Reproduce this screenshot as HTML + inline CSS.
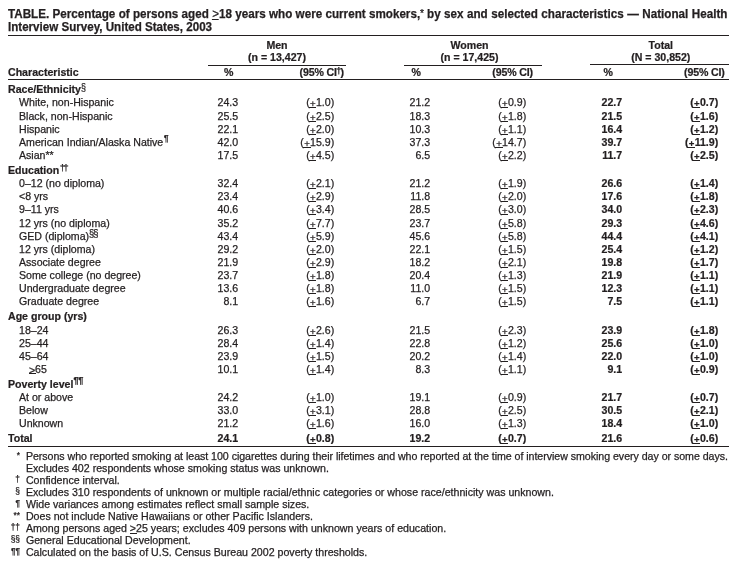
<!DOCTYPE html>
<html><head><meta charset="utf-8"><title>TABLE</title>
<style>
html,body{margin:0;padding:0;background:#fff;overflow:hidden}
body{width:738px;height:566px;position:relative;overflow:hidden;font-family:"Liberation Sans",Arial,Helvetica,sans-serif;color:#231f20;font-size:10.6px;letter-spacing:0px;-webkit-text-stroke:0.25px #231f20}
.t{position:absolute;white-space:nowrap;line-height:20px;height:20px}
.b{font-weight:bold;letter-spacing:0px;-webkit-text-stroke:0.22px #231f20}
.u{position:relative}
.u::after{content:"";position:absolute;left:-0.9px;right:-0.5px;bottom:0px;height:1px;background:#231f20}
.p{font-size:9.6px;padding:0 0.29px;top:1px}
.p::after{bottom:1px}
.g::after{left:-0.3px;right:-1.2px}
.g65{top:1px}
.g65::after{bottom:2px}
.ttl .u::after{bottom:1px;right:-0.2px}
.ast{font-weight:normal;font-size:10.5px;position:relative;top:-1px;margin-right:-0.3px}
.rule{position:absolute;background:#231f20}
sup{font-weight:normal;letter-spacing:0;font-size:9.2px;vertical-align:baseline;position:relative;top:-2.5px;line-height:0}
.ttl{font-size:12.0px;font-weight:bold;letter-spacing:0px;transform:scaleX(0.971);transform-origin:0 0;}
.f{font-size:10.64px;letter-spacing:0px}
.fm{font-size:8.4px}
</style></head>
<body>
<div class="t ttl" style="top:3.84px;left:8.00px;word-spacing:0.08px;">TABLE. Percentage of persons aged <span class="u g" style="font-weight:normal">&gt;</span>18 years who were current smokers,<span class="ast">*</span> by sex<span style="word-spacing:0.28px"> and selected characteristics — National Health</span></div>
<div class="t ttl" style="top:16.84px;left:8.00px;transform:scaleX(0.966);">Interview Survey, United States, 2003</div>
<div class="rule" style="left:8.00px;top:35.00px;width:721.00px;height:1.00px"></div>
<div class="t b" style="top:35.13px;left:217.00px;width:120px;text-align:center;">Men</div>
<div class="t b" style="top:47.23px;left:217.00px;width:120px;text-align:center;">(n = 13,427)</div>
<div class="rule" style="left:208.10px;top:65.00px;width:137.90px;height:1.00px"></div>
<div class="t b" style="top:35.13px;left:409.50px;width:120px;text-align:center;">Women</div>
<div class="t b" style="top:47.23px;left:409.50px;width:120px;text-align:center;">(n = 17,425)</div>
<div class="rule" style="left:404.20px;top:65.00px;width:137.70px;height:1.00px"></div>
<div class="t b" style="top:35.13px;left:600.75px;width:120px;text-align:center;">Total</div>
<div class="t b" style="top:47.23px;left:600.75px;width:120px;text-align:center;">(N = 30,852)</div>
<div class="rule" style="left:590.20px;top:64.00px;width:138.80px;height:1.00px"></div>
<div class="t b" style="top:62.13px;left:8.00px;">Characteristic</div>
<div class="t b" style="top:62.13px;left:168.60px;width:120px;text-align:center;">%</div>
<div class="t b" style="top:62.13px;right:394.20px;letter-spacing:-0.15px;">(95% CI<sup style="font-size:9.0px;top:-2.6px;letter-spacing:0px;margin-left:-0.6px;margin-right:-0.8px;font-weight:bold;">†</sup>)</div>
<div class="t b" style="top:62.13px;left:356.15px;width:120px;text-align:center;">%</div>
<div class="t b" style="top:62.13px;right:205.10px;letter-spacing:-0.15px;">(95% CI)</div>
<div class="t b" style="top:62.13px;left:548.20px;width:120px;text-align:center;">%</div>
<div class="t b" style="top:62.13px;right:13.30px;letter-spacing:-0.15px;">(95% CI)</div>
<div class="rule" style="left:8.00px;top:79.00px;width:721.00px;height:1.00px"></div>
<div class="t b" style="top:79.33px;left:8.00px;">Race/Ethnicity<sup style="font-size:10.7px;top:-2.1px;letter-spacing:0px;margin-left:0.2px;margin-right:0px;font-weight:normal;display:inline-block;transform:scaleX(0.84);transform-origin:0 50%;">§</sup></div>
<div class="t " style="top:92.33px;left:19.00px;">White, non-Hispanic</div>
<div class="t " style="top:92.33px;right:499.80px;">24.3</div>
<div class="t " style="top:92.33px;right:403.80px;">(<span class="u p">+</span>1.0)</div>
<div class="t " style="top:92.33px;right:307.80px;">21.2</div>
<div class="t " style="top:92.33px;right:211.80px;">(<span class="u p">+</span>0.9)</div>
<div class="t b" style="top:92.33px;right:115.80px;">22.7</div>
<div class="t b" style="top:92.33px;right:19.80px;">(<span class="u p">+</span>0.7)</div>
<div class="t " style="top:106.33px;left:19.00px;">Black, non-Hispanic</div>
<div class="t " style="top:106.33px;right:499.80px;">25.5</div>
<div class="t " style="top:106.33px;right:403.80px;">(<span class="u p">+</span>2.5)</div>
<div class="t " style="top:106.33px;right:307.80px;">18.3</div>
<div class="t " style="top:106.33px;right:211.80px;">(<span class="u p">+</span>1.8)</div>
<div class="t b" style="top:106.33px;right:115.80px;">21.5</div>
<div class="t b" style="top:106.33px;right:19.80px;">(<span class="u p">+</span>1.6)</div>
<div class="t " style="top:119.33px;left:19.00px;">Hispanic</div>
<div class="t " style="top:119.33px;right:499.80px;">22.1</div>
<div class="t " style="top:119.33px;right:403.80px;">(<span class="u p">+</span>2.0)</div>
<div class="t " style="top:119.33px;right:307.80px;">10.3</div>
<div class="t " style="top:119.33px;right:211.80px;">(<span class="u p">+</span>1.1)</div>
<div class="t b" style="top:119.33px;right:115.80px;">16.4</div>
<div class="t b" style="top:119.33px;right:19.80px;">(<span class="u p">+</span>1.2)</div>
<div class="t " style="top:132.33px;left:19.00px;">American Indian/Alaska Native<sup style="font-size:9.2px;top:-5.2px;letter-spacing:0px;margin-left:0.5px;margin-right:0px;font-weight:normal;">¶</sup></div>
<div class="t " style="top:132.33px;right:499.80px;">42.0</div>
<div class="t " style="top:132.33px;right:403.80px;">(<span class="u p">+</span>15.9)</div>
<div class="t " style="top:132.33px;right:307.80px;">37.3</div>
<div class="t " style="top:132.33px;right:211.80px;">(<span class="u p">+</span>14.7)</div>
<div class="t b" style="top:132.33px;right:115.80px;">39.7</div>
<div class="t b" style="top:132.33px;right:19.80px;">(<span class="u p">+</span>11.9)</div>
<div class="t " style="top:145.33px;left:19.00px;">Asian**</div>
<div class="t " style="top:145.33px;right:499.80px;">17.5</div>
<div class="t " style="top:145.33px;right:403.80px;">(<span class="u p">+</span>4.5)</div>
<div class="t " style="top:145.33px;right:307.80px;">6.5</div>
<div class="t " style="top:145.33px;right:211.80px;">(<span class="u p">+</span>2.2)</div>
<div class="t b" style="top:145.33px;right:115.80px;">11.7</div>
<div class="t b" style="top:145.33px;right:19.80px;">(<span class="u p">+</span>2.5)</div>
<div class="t b" style="top:160.33px;left:8.00px;">Education<sup style="font-size:9.8px;top:-3.4px;letter-spacing:-1.9px;margin-left:0.6px;margin-right:0px;font-weight:normal;">††</sup></div>
<div class="t " style="top:173.33px;left:19.00px;">0–12 (no diploma)</div>
<div class="t " style="top:173.33px;right:499.80px;">32.4</div>
<div class="t " style="top:173.33px;right:403.80px;">(<span class="u p">+</span>2.1)</div>
<div class="t " style="top:173.33px;right:307.80px;">21.2</div>
<div class="t " style="top:173.33px;right:211.80px;">(<span class="u p">+</span>1.9)</div>
<div class="t b" style="top:173.33px;right:115.80px;">26.6</div>
<div class="t b" style="top:173.33px;right:19.80px;">(<span class="u p">+</span>1.4)</div>
<div class="t " style="top:186.33px;left:19.00px;">&lt;8 yrs</div>
<div class="t " style="top:186.33px;right:499.80px;">23.4</div>
<div class="t " style="top:186.33px;right:403.80px;">(<span class="u p">+</span>2.9)</div>
<div class="t " style="top:186.33px;right:307.80px;">11.8</div>
<div class="t " style="top:186.33px;right:211.80px;">(<span class="u p">+</span>2.0)</div>
<div class="t b" style="top:186.33px;right:115.80px;">17.6</div>
<div class="t b" style="top:186.33px;right:19.80px;">(<span class="u p">+</span>1.8)</div>
<div class="t " style="top:199.33px;left:19.00px;">9–11 yrs</div>
<div class="t " style="top:199.33px;right:499.80px;">40.6</div>
<div class="t " style="top:199.33px;right:403.80px;">(<span class="u p">+</span>3.4)</div>
<div class="t " style="top:199.33px;right:307.80px;">28.5</div>
<div class="t " style="top:199.33px;right:211.80px;">(<span class="u p">+</span>3.0)</div>
<div class="t b" style="top:199.33px;right:115.80px;">34.0</div>
<div class="t b" style="top:199.33px;right:19.80px;">(<span class="u p">+</span>2.3)</div>
<div class="t " style="top:213.33px;left:19.00px;">12 yrs (no diploma)</div>
<div class="t " style="top:213.33px;right:499.80px;">35.2</div>
<div class="t " style="top:213.33px;right:403.80px;">(<span class="u p">+</span>7.7)</div>
<div class="t " style="top:213.33px;right:307.80px;">23.7</div>
<div class="t " style="top:213.33px;right:211.80px;">(<span class="u p">+</span>5.8)</div>
<div class="t b" style="top:213.33px;right:115.80px;">29.3</div>
<div class="t b" style="top:213.33px;right:19.80px;">(<span class="u p">+</span>4.6)</div>
<div class="t " style="top:226.33px;left:19.00px;">GED (diploma)<sup style="font-size:10.7px;top:-3.2px;letter-spacing:-1.2px;margin-left:0.3px;margin-right:0px;font-weight:normal;display:inline-block;transform:scaleX(0.88);transform-origin:0 50%;">§§</sup></div>
<div class="t " style="top:226.33px;right:499.80px;">43.4</div>
<div class="t " style="top:226.33px;right:403.80px;">(<span class="u p">+</span>5.9)</div>
<div class="t " style="top:226.33px;right:307.80px;">45.6</div>
<div class="t " style="top:226.33px;right:211.80px;">(<span class="u p">+</span>5.8)</div>
<div class="t b" style="top:226.33px;right:115.80px;">44.4</div>
<div class="t b" style="top:226.33px;right:19.80px;">(<span class="u p">+</span>4.1)</div>
<div class="t " style="top:239.33px;left:19.00px;">12 yrs (diploma)</div>
<div class="t " style="top:239.33px;right:499.80px;">29.2</div>
<div class="t " style="top:239.33px;right:403.80px;">(<span class="u p">+</span>2.0)</div>
<div class="t " style="top:239.33px;right:307.80px;">22.1</div>
<div class="t " style="top:239.33px;right:211.80px;">(<span class="u p">+</span>1.5)</div>
<div class="t b" style="top:239.33px;right:115.80px;">25.4</div>
<div class="t b" style="top:239.33px;right:19.80px;">(<span class="u p">+</span>1.2)</div>
<div class="t " style="top:252.33px;left:19.00px;">Associate degree</div>
<div class="t " style="top:252.33px;right:499.80px;">21.9</div>
<div class="t " style="top:252.33px;right:403.80px;">(<span class="u p">+</span>2.9)</div>
<div class="t " style="top:252.33px;right:307.80px;">18.2</div>
<div class="t " style="top:252.33px;right:211.80px;">(<span class="u p">+</span>2.1)</div>
<div class="t b" style="top:252.33px;right:115.80px;">19.8</div>
<div class="t b" style="top:252.33px;right:19.80px;">(<span class="u p">+</span>1.7)</div>
<div class="t " style="top:265.33px;left:19.00px;">Some college (no degree)</div>
<div class="t " style="top:265.33px;right:499.80px;">23.7</div>
<div class="t " style="top:265.33px;right:403.80px;">(<span class="u p">+</span>1.8)</div>
<div class="t " style="top:265.33px;right:307.80px;">20.4</div>
<div class="t " style="top:265.33px;right:211.80px;">(<span class="u p">+</span>1.3)</div>
<div class="t b" style="top:265.33px;right:115.80px;">21.9</div>
<div class="t b" style="top:265.33px;right:19.80px;">(<span class="u p">+</span>1.1)</div>
<div class="t " style="top:278.33px;left:19.00px;">Undergraduate degree</div>
<div class="t " style="top:278.33px;right:499.80px;">13.6</div>
<div class="t " style="top:278.33px;right:403.80px;">(<span class="u p">+</span>1.8)</div>
<div class="t " style="top:278.33px;right:307.80px;">11.0</div>
<div class="t " style="top:278.33px;right:211.80px;">(<span class="u p">+</span>1.5)</div>
<div class="t b" style="top:278.33px;right:115.80px;">12.3</div>
<div class="t b" style="top:278.33px;right:19.80px;">(<span class="u p">+</span>1.1)</div>
<div class="t " style="top:291.33px;left:19.00px;">Graduate degree</div>
<div class="t " style="top:291.33px;right:499.80px;">8.1</div>
<div class="t " style="top:291.33px;right:403.80px;">(<span class="u p">+</span>1.6)</div>
<div class="t " style="top:291.33px;right:307.80px;">6.7</div>
<div class="t " style="top:291.33px;right:211.80px;">(<span class="u p">+</span>1.5)</div>
<div class="t b" style="top:291.33px;right:115.80px;">7.5</div>
<div class="t b" style="top:291.33px;right:19.80px;">(<span class="u p">+</span>1.1)</div>
<div class="t b" style="top:306.33px;left:8.00px;">Age group (yrs)</div>
<div class="t " style="top:320.33px;left:19.00px;">18–24</div>
<div class="t " style="top:320.33px;right:499.80px;">26.3</div>
<div class="t " style="top:320.33px;right:403.80px;">(<span class="u p">+</span>2.6)</div>
<div class="t " style="top:320.33px;right:307.80px;">21.5</div>
<div class="t " style="top:320.33px;right:211.80px;">(<span class="u p">+</span>2.3)</div>
<div class="t b" style="top:320.33px;right:115.80px;">23.9</div>
<div class="t b" style="top:320.33px;right:19.80px;">(<span class="u p">+</span>1.8)</div>
<div class="t " style="top:333.33px;left:19.00px;">25–44</div>
<div class="t " style="top:333.33px;right:499.80px;">28.4</div>
<div class="t " style="top:333.33px;right:403.80px;">(<span class="u p">+</span>1.4)</div>
<div class="t " style="top:333.33px;right:307.80px;">22.8</div>
<div class="t " style="top:333.33px;right:211.80px;">(<span class="u p">+</span>1.2)</div>
<div class="t b" style="top:333.33px;right:115.80px;">25.6</div>
<div class="t b" style="top:333.33px;right:19.80px;">(<span class="u p">+</span>1.0)</div>
<div class="t " style="top:346.33px;left:19.00px;">45–64</div>
<div class="t " style="top:346.33px;right:499.80px;">23.9</div>
<div class="t " style="top:346.33px;right:403.80px;">(<span class="u p">+</span>1.5)</div>
<div class="t " style="top:346.33px;right:307.80px;">20.2</div>
<div class="t " style="top:346.33px;right:211.80px;">(<span class="u p">+</span>1.4)</div>
<div class="t b" style="top:346.33px;right:115.80px;">22.0</div>
<div class="t b" style="top:346.33px;right:19.80px;">(<span class="u p">+</span>1.0)</div>
<div class="t " style="top:359.33px;left:28.90px;"><span class="u g g65">&gt;</span>65</div>
<div class="t " style="top:359.33px;right:499.80px;">10.1</div>
<div class="t " style="top:359.33px;right:403.80px;">(<span class="u p">+</span>1.4)</div>
<div class="t " style="top:359.33px;right:307.80px;">8.3</div>
<div class="t " style="top:359.33px;right:211.80px;">(<span class="u p">+</span>1.1)</div>
<div class="t b" style="top:359.33px;right:115.80px;">9.1</div>
<div class="t b" style="top:359.33px;right:19.80px;">(<span class="u p">+</span>0.9)</div>
<div class="t b" style="top:374.33px;left:8.00px;">Poverty level<sup style="font-size:9.2px;top:-5.3px;letter-spacing:-0.3px;margin-left:0.1px;margin-right:0px;font-weight:bold;">¶¶</sup></div>
<div class="t " style="top:387.33px;left:19.00px;">At or above</div>
<div class="t " style="top:387.33px;right:499.80px;">24.2</div>
<div class="t " style="top:387.33px;right:403.80px;">(<span class="u p">+</span>1.0)</div>
<div class="t " style="top:387.33px;right:307.80px;">19.1</div>
<div class="t " style="top:387.33px;right:211.80px;">(<span class="u p">+</span>0.9)</div>
<div class="t b" style="top:387.33px;right:115.80px;">21.7</div>
<div class="t b" style="top:387.33px;right:19.80px;">(<span class="u p">+</span>0.7)</div>
<div class="t " style="top:400.33px;left:19.00px;">Below</div>
<div class="t " style="top:400.33px;right:499.80px;">33.0</div>
<div class="t " style="top:400.33px;right:403.80px;">(<span class="u p">+</span>3.1)</div>
<div class="t " style="top:400.33px;right:307.80px;">28.8</div>
<div class="t " style="top:400.33px;right:211.80px;">(<span class="u p">+</span>2.5)</div>
<div class="t b" style="top:400.33px;right:115.80px;">30.5</div>
<div class="t b" style="top:400.33px;right:19.80px;">(<span class="u p">+</span>2.1)</div>
<div class="t " style="top:413.33px;left:19.00px;">Unknown</div>
<div class="t " style="top:413.33px;right:499.80px;">21.2</div>
<div class="t " style="top:413.33px;right:403.80px;">(<span class="u p">+</span>1.6)</div>
<div class="t " style="top:413.33px;right:307.80px;">16.0</div>
<div class="t " style="top:413.33px;right:211.80px;">(<span class="u p">+</span>1.3)</div>
<div class="t b" style="top:413.33px;right:115.80px;">18.4</div>
<div class="t b" style="top:413.33px;right:19.80px;">(<span class="u p">+</span>1.0)</div>
<div class="t b" style="top:428.33px;left:8.00px;">Total</div>
<div class="t b" style="top:428.33px;right:499.80px;">24.1</div>
<div class="t b" style="top:428.33px;right:403.80px;">(<span class="u p">+</span>0.8)</div>
<div class="t b" style="top:428.33px;right:307.80px;">19.2</div>
<div class="t b" style="top:428.33px;right:211.80px;">(<span class="u p">+</span>0.7)</div>
<div class="t b" style="top:428.33px;right:115.80px;">21.6</div>
<div class="t b" style="top:428.33px;right:19.80px;">(<span class="u p">+</span>0.6)</div>
<div class="rule" style="left:8.00px;top:446.00px;width:721.00px;height:1.00px"></div>
<div class="t fm" style="top:444.89px;right:718.00px;">*</div>
<div class="t f" style="top:446.31px;left:25.90px;letter-spacing:-0.037px;">Persons who reported smoking at least 100 cigarettes during their lifetimes and who reported at the time of interview smoking every day or some days.</div>
<div class="t f" style="top:458.31px;left:25.90px;">Excludes 402 respondents whose smoking status was unknown.</div>
<div class="t fm" style="top:468.89px;right:718.00px;">†</div>
<div class="t f" style="top:470.31px;left:25.90px;">Confidence interval.</div>
<div class="t fm" style="top:480.89px;right:718.00px;">§</div>
<div class="t f" style="top:482.31px;left:25.90px;">Excludes 310 respondents of unknown or multiple racial/ethnic categories or whose race/ethnicity was unknown.</div>
<div class="t fm" style="top:492.89px;right:718.00px;">¶</div>
<div class="t f" style="top:494.31px;left:25.90px;">Wide variances among estimates reflect small sample sizes.</div>
<div class="t fm" style="top:504.89px;right:718.00px;">**</div>
<div class="t f" style="top:506.31px;left:25.90px;">Does not include Native Hawaiians or other Pacific Islanders.</div>
<div class="t fm" style="top:516.89px;right:718.00px;">††</div>
<div class="t f" style="top:518.31px;left:25.90px;">Among persons aged <span class="u g">&gt;</span>25 years; excludes 409 persons with unknown years of education.</div>
<div class="t fm" style="top:528.89px;right:718.00px;">§§</div>
<div class="t f" style="top:530.31px;left:25.90px;">General Educational Development.</div>
<div class="t fm" style="top:540.89px;right:718.00px;">¶¶</div>
<div class="t f" style="top:542.31px;left:25.90px;">Calculated on the basis of U.S. Census Bureau 2002 poverty thresholds.</div>
</body></html>
